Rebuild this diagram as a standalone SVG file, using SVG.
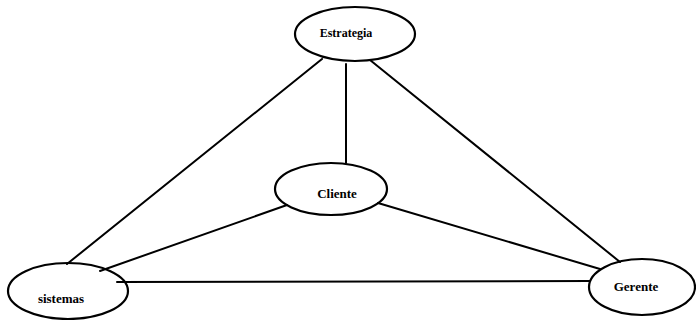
<svg xmlns="http://www.w3.org/2000/svg" width="696" height="320" viewBox="0 0 696 320">
<style>
.n{fill:none;stroke:#000;stroke-width:2.2}
.e{stroke:#000;stroke-width:2;fill:none;stroke-linecap:round}
.t{font-family:"Liberation Serif",serif;font-weight:bold;font-size:13px;fill:#000;text-anchor:middle}
</style>
<rect width="696" height="320" fill="#fff"/>
<g id="connectors">
<line class="e" x1="322" y1="59" x2="67" y2="264"/>
<line class="e" x1="346" y1="64" x2="346" y2="163"/>
<line class="e" x1="370" y1="60" x2="620" y2="262"/>
<line class="e" x1="287" y1="205" x2="100" y2="271"/>
<line class="e" x1="378" y1="203" x2="600" y2="269"/>
<line class="e" x1="117" y1="282" x2="590" y2="281"/>
</g>
<g id="estrategia">
<ellipse class="n" cx="355" cy="34" rx="60" ry="27"/>
<text class="t" x="346" y="37" style="font-size:12px">Estrategia</text>
</g>
<g id="cliente">
<ellipse class="n" cx="331" cy="189" rx="56" ry="26"/>
<text class="t" x="337" y="198">Cliente</text>
</g>
<g id="sistemas">
<ellipse class="n" cx="68" cy="291" rx="60" ry="28"/>
<text class="t" x="61" y="303">sistemas</text>
</g>
<g id="gerente">
<ellipse class="n" cx="642" cy="287" rx="53" ry="28"/>
<text class="t" x="636" y="291">Gerente</text>
</g>
</svg>
